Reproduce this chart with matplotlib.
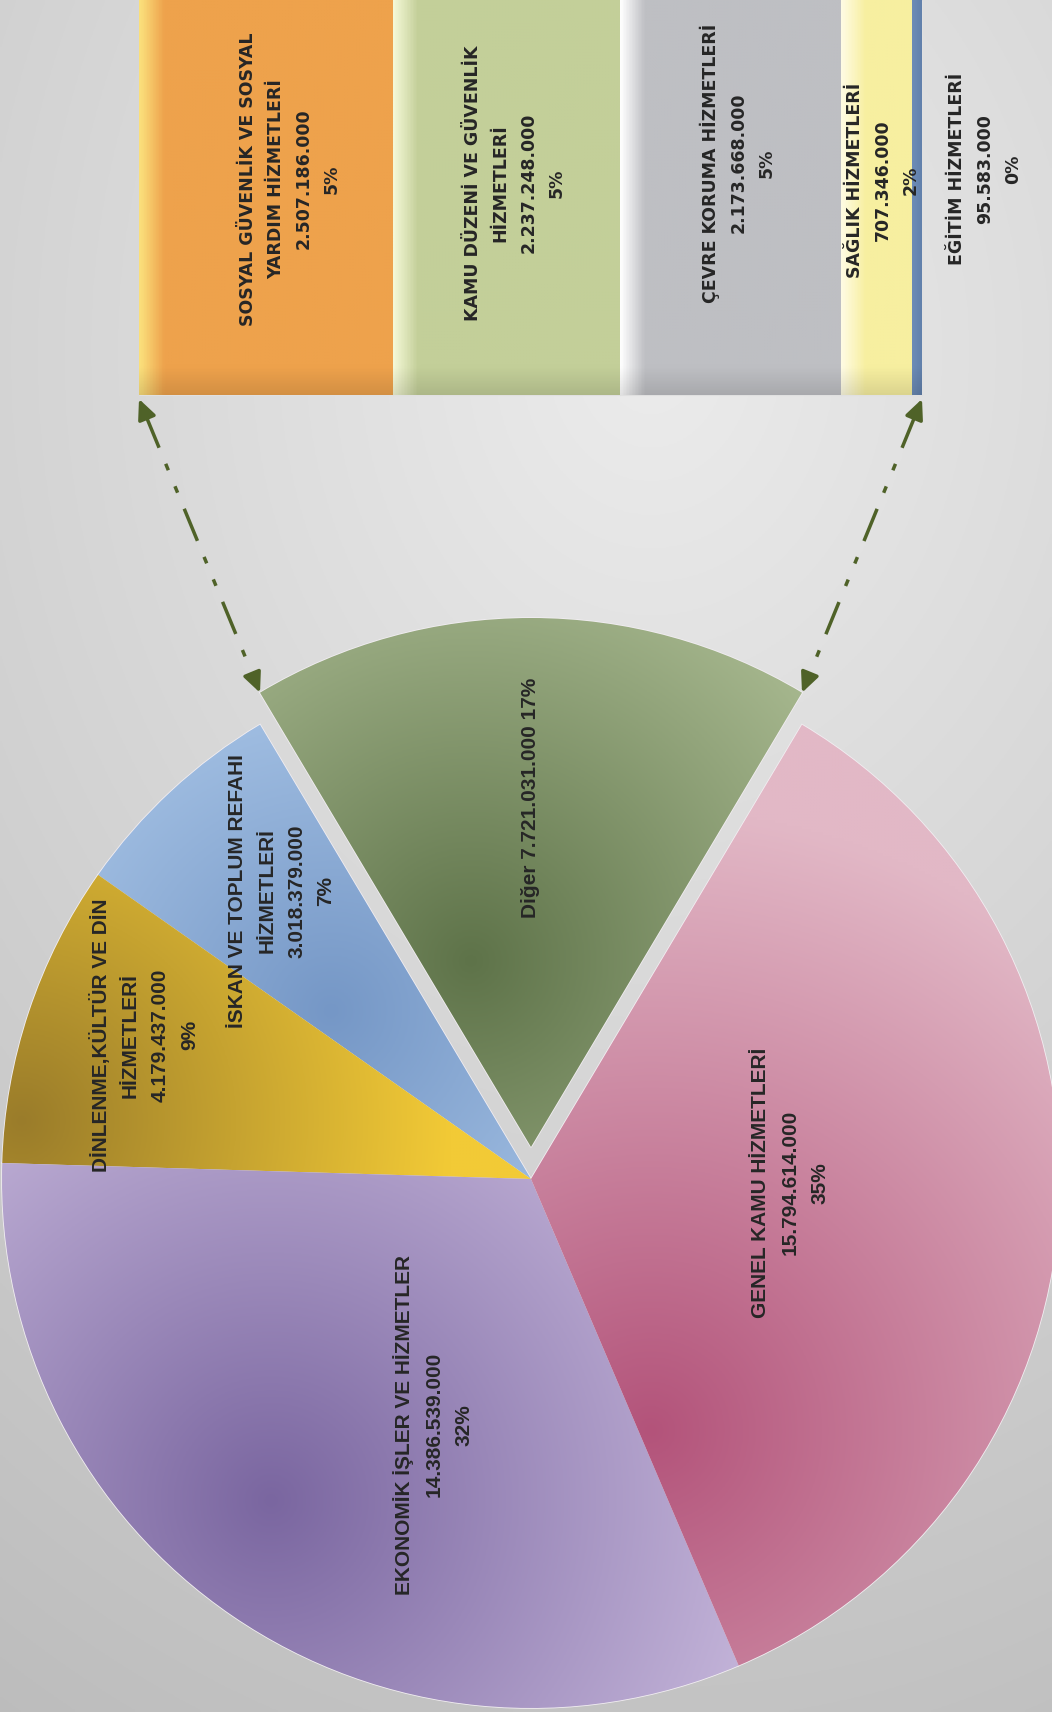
import matplotlib.pyplot as plt
import matplotlib.colors as mcolors
import numpy as np

# pie data (counterclockwise, starting with the exploded "Diğer" slice)
pie_names = ["Diğer", "İSKAN VE TOPLUM REFAHI\nHİZMETLERİ", "DİNLENME,KÜLTÜR VE DİN\nHİZMETLERİ",
             "EKONOMİK İŞLER VE HİZMETLER", "GENEL KAMU HİZMETLERİ"]
pie_values = [7721031000, 3018379000, 4179437000, 14386539000, 15794614000]
pie_pct = ["17%", "7%", "9%", "32%", "35%"]
pie_colors = ["#849b6c", "#8fb0da", "#d8b23c", "#ab97c8", "#cb839e"]

# bar data (the "Diğer" breakdown)
bar_names = ["SOSYAL GÜVENLİK VE SOSYAL\nYARDIM HİZMETLERİ", "KAMU DÜZENİ VE GÜVENLİK\nHİZMETLERİ",
             "ÇEVRE KORUMA HİZMETLERİ", "SAĞLIK HİZMETLERİ", "EĞİTİM HİZMETLERİ"]
bar_values = [2507186000, 2237248000, 2173668000, 707346000, 95583000]
bar_pct = ["5%", "5%", "5%", "2%", "0%"]
bar_colors = ["#eea24c", "#c3cf99", "#bebfc3", "#f7efa0", "#4d6c97"]
bar_light = ["#fbe07c", "#f4f8d6", "#ffffff", "#fffce4", "#6d8cb7"]


def fmt(v):
    return f"{v:,}".replace(",", ".")


def rgb(c):
    return np.array(mcolors.to_rgb(c))


W, H = 1052, 1712
fig = plt.figure(figsize=(W / 100, H / 100), dpi=100)
ax = fig.add_axes([0, 0, 1, 1])

# background gradient (pixel grid, row 0 = top)
gy, gx = np.mgrid[0:H:3, 0:W:3]
d = np.hypot(gx - 650, (gy - 350) * 0.8) / 1300
bg = np.clip(0.925 - 0.19 * d, 0, 1)
ax.imshow(np.dstack([bg, bg, bg]), extent=(0, W, 0, H), origin="upper", zorder=0, aspect="auto")

# pie
cx, cy, R = 531, 533, 529
start = 90 - 180 * pie_values[0] / sum(pie_values)
wedges, _ = ax.pie(pie_values, colors=pie_colors, startangle=start, counterclock=True,
                   center=(cx, cy), radius=R, explode=[32, 0, 0, 0, 0],
                   wedgeprops=dict(edgecolor="#f2eef2", linewidth=1.2))

# soft shading inside each slice: (dark, light, dark spot in pixels, spread)
shade = [("#5e7349", "#a6b78e", (470, 960), 430),
         ("#7597c6", "#b0ccec", (330, 1010), 420),
         ("#9a7c2a", "#f2ca36", (20, 1120), 430),
         ("#7a66a0", "#cbbcdf", (270, 1500), 560),
         ("#b3537a", "#e2b8c6", (650, 1430), 620)]
for w, (dk, lt, sp, sc) in zip(wedges, shade):
    t = np.clip(np.hypot(gx - sp[0], gy - sp[1]) / sc, 0, 1)[..., None]
    img = rgb(dk) + (rgb(lt) - rgb(dk)) * t
    im = ax.imshow(img, extent=(0, W, 0, H), origin="upper", zorder=1.5, aspect="auto")
    im.set_clip_path(w)

# label placement: (angle nudge in degrees, radius fraction)
place = [(0, 0.66), (-2, 0.72), (-2, 0.78), (12.6, 0.50), (3, 0.49)]
for w, name, v, p, (da, rf) in zip(wedges, pie_names, pie_values, pie_pct, place):
    a = np.deg2rad((w.theta1 + w.theta2) / 2 + da)
    x = w.center[0] + rf * w.r * np.cos(a)
    y = w.center[1] + rf * w.r * np.sin(a)
    if name == "Diğer":
        txt = f"{name} {fmt(v)} {p}"
    else:
        txt = f"{name}\n{fmt(v)}\n{p}"
    ax.text(x, y, txt, rotation=90, ha="center", va="center", multialignment="center",
            fontsize=15, fontweight="bold", family=["Liberation Sans Narrow", "Liberation Sans"],
            color="#262626", linespacing=1.7, zorder=5)

# stacked bar
bx0, bx1 = 139, 922
by0, by1 = H - 395, H
scale = (bx1 - bx0) / sum(bar_values)
lefts = bx0 + scale * np.concatenate([[0], np.cumsum(bar_values)[:-1]])
widths = scale * np.array(bar_values)
bars = ax.barh((by0 + by1) / 2, widths, left=lefts, height=by1 - by0, color=bar_colors,
               edgecolor="#e0e0e0", linewidth=0.8, zorder=3)

# bevel: light left edge, slightly darker bottom edge
for b, base, lt in zip(bars, bar_colors, bar_light):
    x0 = b.get_x()
    dl = np.clip((gx - x0) / 24, 0, 1)[..., None]
    db = np.clip((395 - gy) / 30, 0, 1)[..., None]
    img = rgb(lt) + (rgb(base) - rgb(lt)) * dl
    img = img * (1 - 0.12 * (1 - db))
    im = ax.imshow(np.clip(img, 0, 1), extent=(0, W, 0, H), origin="upper", zorder=3.5, aspect="auto")
    im.set_clip_path(b)

bar_dx = [24, 8, 7, 6, 68]
bar_y = [179, 183, 163, 180, 169]
for l, wd, name, v, p, dx, ty in zip(lefts, widths, bar_names, bar_values, bar_pct, bar_dx, bar_y):
    ax.text(l + wd / 2 + dx, H - ty, f"{name}\n{fmt(v)}\n{p}", rotation=90, ha="center", va="center",
            multialignment="center", fontsize=12.5, fontweight="bold", family="DejaVu Sans",
            color="#262626", linespacing=1.7, zorder=5)

# connector arrows from the bar to the exploded slice
dg = wedges[0]
arrow_col = "#4f6228"
for bx, th in [(bx0, dg.theta2), (bx1, dg.theta1)]:
    t = np.deg2rad(th)
    px = dg.center[0] + dg.r * np.cos(t)
    py = dg.center[1] + dg.r * np.sin(t)
    p0 = np.array([bx, by0 - 4])
    p1 = np.array([px, py])
    u = (p1 - p0) / np.linalg.norm(p1 - p0)
    a0, a1 = p0 + u * 18, p1 - u * 18
    ax.plot([a0[0], a1[0]], [a0[1], a1[1]], color=arrow_col, lw=2.5,
            dashes=(10, 5, 2, 5, 2, 5), zorder=4)
    for tip, tail in [(p0, a0 + u * 2), (p1, a1 - u * 2)]:
        ax.annotate("", xy=tip, xytext=tail, zorder=4,
                    arrowprops=dict(arrowstyle="-|>,head_length=1.2,head_width=0.55",
                                    color=arrow_col, lw=2.5, shrinkA=0, shrinkB=0))

ax.set_xlim(0, W)
ax.set_ylim(0, H)
ax.set_aspect("auto")
ax.axis("off")
fig.savefig("out.png", dpi=100)
